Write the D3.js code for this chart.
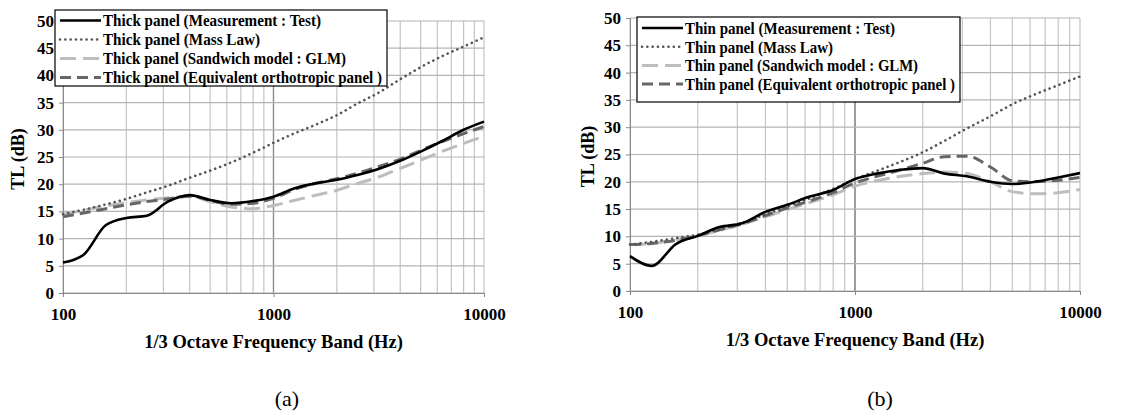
<!DOCTYPE html>
<html>
<head>
<meta charset="utf-8">
<script src="https://cdn.jsdelivr.net/npm/d3@7"></script>
<style>
  body { margin: 0; background: #fff; }
</style>
</head>
<body>
<div id="chart"></div>
<script>
// 1/3 octave band centres
const freqs = [100, 125, 160, 200, 250, 315, 400, 500, 630, 800, 1000, 1250, 1600, 2000, 2500, 3150, 4000, 5000, 6300, 8000, 10000];
const yTicks = [0, 5, 10, 15, 20, 25, 30, 35, 40, 45, 50];
const xTickLabels = [100, 1000, 10000];

// (a) thick panel
const thickTest  = [5.6, 7.0, 12.5, 13.8, 14.2, 16.8, 18.0, 17.1, 16.5, 16.9, 17.7, 19.2, 20.2, 20.8, 21.7, 22.8, 24.3, 26.0, 27.9, 30.0, 31.5];
const thickMass  = [14.5, 15.3, 16.3, 17.3, 18.5, 19.7, 21.2, 22.5, 24.0, 25.8, 27.6, 29.3, 31.0, 32.7, 34.8, 36.8, 39.3, 41.5, 43.5, 45.3, 47.0];
const thickGLM   = [14.5, 15.2, 16.0, 16.6, 17.1, 17.5, 17.8, 16.8, 15.8, 15.5, 16.1, 17.0, 18.0, 18.9, 20.1, 21.3, 22.9, 24.4, 26.0, 27.5, 28.8];
const thickOrtho = [14.0, 14.7, 15.5, 16.2, 16.8, 17.3, 17.8, 17.0, 16.3, 16.5, 17.4, 19.0, 20.2, 21.0, 22.0, 23.2, 24.6, 26.2, 27.8, 29.3, 30.6];

// (b) thin panel
const thinTest  = [6.4, 4.6, 8.6, 10.1, 11.7, 12.4, 14.5, 15.8, 17.3, 18.5, 20.5, 21.5, 22.2, 22.5, 21.5, 21.0, 20.0, 19.6, 20.0, 20.8, 21.6];
const thinMass  = [8.5, 9.0, 9.7, 10.3, 11.3, 12.5, 14.0, 15.5, 17.0, 18.7, 20.5, 22.0, 23.7, 25.4, 27.5, 29.8, 32.0, 34.2, 36.0, 37.7, 39.3];
const thinGLM   = [8.5, 8.7, 9.4, 10.1, 11.1, 12.2, 13.6, 14.9, 16.2, 17.6, 19.2, 20.2, 21.0, 21.5, 21.8, 21.5, 20.0, 18.2, 17.8, 18.0, 18.6];
const thinOrtho = [8.5, 8.7, 9.3, 10.1, 11.2, 12.3, 13.8, 15.2, 16.5, 18.0, 19.8, 21.0, 22.2, 23.4, 24.6, 24.7, 22.7, 20.2, 20.0, 20.3, 20.8];

const serif = "'Liberation Serif', 'Times New Roman', Times, serif";

const styles = [
    { stroke: "#000", width: 2.6, dash: null },
    { stroke: "#555", width: 2.6, dash: "0.1,5.2", cap: "round" },
    { stroke: "#bdbdbd", width: 3, dash: "16,7" },
    { stroke: "#666", width: 3, dash: "11,6" }
];

const svg = d3.select("#chart").append("svg")
    .attr("width", 1141)
    .attr("height", 413)
    .style("font-family", serif);

function styleTicks(a) {
    a.attr("font-family", null);
    a.select(".domain").attr("stroke", "#888");
    a.selectAll(".tick line").attr("stroke", "#888");
    a.selectAll("text")
        .style("font-family", serif)
        .attr("font-size", 17).attr("font-weight", "bold").attr("fill", "#000");
}

function drawPanel(cfg) {
    const x = d3.scaleLog().domain([100, 10000]).range([cfg.left, cfg.right]);
    const y = d3.scaleLinear().domain([0, 50]).range([cfg.bottom, cfg.top]);
    const g = svg.append("g");

    // minor / major vertical grid
    const gridX = [];
    for (let d = 100; d < 10000; d *= 10)
        for (let k = 1; k <= 10; k++) gridX.push(d * k);
    g.selectAll(".vgrid").data(gridX).enter().append("line")
        .attr("x1", d => x(d)).attr("x2", d => x(d))
        .attr("y1", y(0)).attr("y2", y(50))
        .attr("stroke", d => d === 1000 ? "#8a8a8a" : "#c4c4c4")
        .attr("stroke-width", 1.2);

    g.selectAll(".hgrid").data(yTicks).enter().append("line")
        .attr("x1", x(100)).attr("x2", x(10000))
        .attr("y1", d => y(d)).attr("y2", d => y(d))
        .attr("stroke", "#b4b4b4")
        .attr("stroke-width", 1.2);

    // axes
    g.append("g")
        .attr("transform", `translate(${cfg.left},0)`)
        .call(d3.axisLeft(y).tickValues(yTicks).tickSize(4).tickPadding(5))
        .call(styleTicks);

    g.append("g")
        .attr("transform", `translate(0,${cfg.bottom})`)
        .call(d3.axisBottom(x).tickValues(xTickLabels).tickFormat(d3.format("d")).tickSize(4).tickPadding(11))
        .call(styleTicks);

    g.append("text")
        .attr("x", (cfg.left + cfg.right) / 2)
        .attr("y", cfg.bottom + 55)
        .attr("text-anchor", "middle")
        .style("font-family", serif)
        .attr("font-size", 18.5).attr("font-weight", "bold")
        .text("1/3 Octave Frequency Band (Hz)");

    g.append("text")
        .attr("transform", `translate(${cfg.yTitleX},${(cfg.top + cfg.bottom) / 2 + 2}) rotate(-90)`)
        .attr("text-anchor", "middle")
        .attr("dy", "0.35em")
        .style("font-family", serif)
        .attr("font-size", 18).attr("font-weight", "bold")
        .text("TL (dB)");

    // curves
    const line = d3.line()
        .x((d, i) => x(freqs[i]))
        .y(d => y(d))
        .curve(d3.curveMonotoneX);

    const order = [2, 3, 1, 0];
    order.forEach(si => {
        const s = styles[si];
        g.append("path")
            .datum(cfg.series[si])
            .attr("d", line)
            .attr("fill", "none")
            .attr("stroke", s.stroke)
            .attr("stroke-width", s.width)
            .attr("stroke-dasharray", s.dash)
            .attr("stroke-linecap", s.cap || "butt");
    });

    // legend
    const lg = cfg.legend;
    g.append("rect")
        .attr("x", lg.x).attr("y", lg.y)
        .attr("width", lg.w).attr("height", lg.h)
        .attr("fill", "#fff").attr("stroke", "#000").attr("stroke-width", 1.2);

    cfg.labels.forEach((lab, i) => {
        const s = styles[i];
        const cy = lg.y + lg.row0 + i * lg.step;
        g.append("line")
            .attr("x1", lg.x + 5).attr("x2", lg.x + 46)
            .attr("y1", cy).attr("y2", cy)
            .attr("stroke", s.stroke)
            .attr("stroke-width", s.width)
            .attr("stroke-dasharray", s.dash)
            .attr("stroke-linecap", s.cap || "butt");
        g.append("text")
            .attr("x", lg.x + 48).attr("y", cy)
            .attr("dy", "0.35em")
            .style("font-family", serif)
            .attr("font-size", 17).attr("font-weight", "bold")
            .attr("textLength", lg.tl[i])
            .attr("lengthAdjust", "spacingAndGlyphs")
            .text(lab);
    });

    svg.append("text")
        .attr("x", cfg.capX).attr("y", 398)
        .attr("dy", "0.35em")
        .attr("text-anchor", "middle")
        .style("font-family", serif)
        .attr("font-size", 22)
        .text(cfg.caption);
}

drawPanel({
    left: 63, right: 484, top: 21, bottom: 293, yTitleX: 18,
    series: [thickTest, thickMass, thickGLM, thickOrtho],
    labels: ["Thick panel (Measurement : Test)", "Thick panel (Mass Law)",
             "Thick panel (Sandwich model : GLM)", "Thick panel (Equivalent orthotropic panel )"],
    legend: { x: 55, y: 10, w: 332, h: 76, row0: 10.5, step: 19, tl: [218, 157, 243, 279] },
    caption: "(a)", capX: 287
});

drawPanel({
    left: 630, right: 1080, top: 18, bottom: 291, yTitleX: 588,
    series: [thinTest, thinMass, thinGLM, thinOrtho],
    labels: ["Thin panel (Measurement : Test)", "Thin panel (Mass Law)",
             "Thin panel (Sandwich model : GLM)", "Thin panel (Equivalent orthotropic panel )"],
    legend: { x: 637, y: 17, w: 323, h: 85, row0: 11, step: 18.7, tl: [210, 148, 233, 270] },
    caption: "(b)", capX: 880
});
</script>
</body>
</html>
